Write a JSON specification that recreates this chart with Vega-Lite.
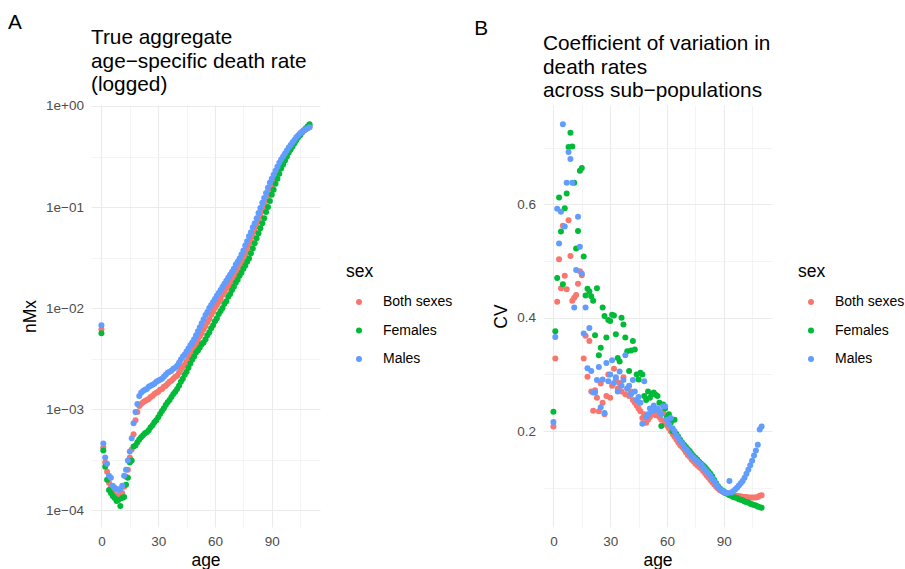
{
"$schema":"https://vega.github.io/schema/vega-lite/v6.json",
"padding":{"left":8,"top":11,"right":0,"bottom":0},
"config":{
 "font":"Liberation Sans",
 "view":{"stroke":null},
 "axis":{"domain":false,"ticks":false,"labelColor":"#4D4D4D","labelFontSize":13.5,"labelPadding":7,"titleFontSize":17.5,"titleFontWeight":"normal","titleColor":"black","titlePadding":6,"gridColor":"#EBEBEB"},
 "axisY":{"labelPadding":7.5},
 "axisX":{"titlePadding":4},
 "title":{"fontSize":20.8,"fontWeight":"normal","color":"black","anchor":"start"},
 "concat":{"spacing":21}
},
"datasets":{"d":[
{"age":0,"sex":"Both sexes","nMx":0.00617,"CV":0.208},
{"age":1,"sex":"Both sexes","nMx":0.000417,"CV":0.328},
{"age":2,"sex":"Both sexes","nMx":0.000295,"CV":0.428},
{"age":3,"sex":"Both sexes","nMx":0.00024,"CV":0.503},
{"age":4,"sex":"Both sexes","nMx":0.000186,"CV":0.452},
{"age":5,"sex":"Both sexes","nMx":0.000174,"CV":0.562},
{"age":6,"sex":"Both sexes","nMx":0.000151,"CV":0.474},
{"age":7,"sex":"Both sexes","nMx":0.000141,"CV":0.45},
{"age":8,"sex":"Both sexes","nMx":0.000138,"CV":0.572},
{"age":9,"sex":"Both sexes","nMx":0.000138,"CV":0.509},
{"age":10,"sex":"Both sexes","nMx":0.000132,"CV":0.43},
{"age":11,"sex":"Both sexes","nMx":0.000148,"CV":0.435},
{"age":12,"sex":"Both sexes","nMx":0.00017,"CV":0.44},
{"age":13,"sex":"Both sexes","nMx":0.000214,"CV":0.46},
{"age":14,"sex":"Both sexes","nMx":0.000251,"CV":0.482},
{"age":15,"sex":"Both sexes","nMx":0.000331,"CV":0.475},
{"age":16,"sex":"Both sexes","nMx":0.000398,"CV":0.328},
{"age":17,"sex":"Both sexes","nMx":0.000562,"CV":0.368},
{"age":18,"sex":"Both sexes","nMx":0.000776,"CV":0.296},
{"age":19,"sex":"Both sexes","nMx":0.000933,"CV":0.359},
{"age":20,"sex":"Both sexes","nMx":0.00107,"CV":0.27},
{"age":21,"sex":"Both sexes","nMx":0.00112,"CV":0.236},
{"age":22,"sex":"Both sexes","nMx":0.00117,"CV":0.272},
{"age":23,"sex":"Both sexes","nMx":0.0012,"CV":0.259},
{"age":24,"sex":"Both sexes","nMx":0.00123,"CV":0.235},
{"age":25,"sex":"Both sexes","nMx":0.00126,"CV":0.284},
{"age":26,"sex":"Both sexes","nMx":0.00132,"CV":0.25},
{"age":27,"sex":"Both sexes","nMx":0.00135,"CV":0.23},
{"age":28,"sex":"Both sexes","nMx":0.00141,"CV":0.262},
{"age":29,"sex":"Both sexes","nMx":0.00145,"CV":0.3},
{"age":30,"sex":"Both sexes","nMx":0.00148,"CV":0.259},
{"age":31,"sex":"Both sexes","nMx":0.00155,"CV":0.28},
{"age":32,"sex":"Both sexes","nMx":0.00158,"CV":0.31},
{"age":33,"sex":"Both sexes","nMx":0.00166,"CV":0.29},
{"age":34,"sex":"Both sexes","nMx":0.0017,"CV":0.275},
{"age":35,"sex":"Both sexes","nMx":0.00178,"CV":0.285},
{"age":36,"sex":"Both sexes","nMx":0.00186,"CV":0.27},
{"age":37,"sex":"Both sexes","nMx":0.00191,"CV":0.295},
{"age":38,"sex":"Both sexes","nMx":0.002,"CV":0.265},
{"age":39,"sex":"Both sexes","nMx":0.00209,"CV":0.275},
{"age":40,"sex":"Both sexes","nMx":0.00214,"CV":0.262},
{"age":41,"sex":"Both sexes","nMx":0.00229,"CV":0.27},
{"age":42,"sex":"Both sexes","nMx":0.00245,"CV":0.255},
{"age":43,"sex":"Both sexes","nMx":0.00263,"CV":0.25},
{"age":44,"sex":"Both sexes","nMx":0.00275,"CV":0.245},
{"age":45,"sex":"Both sexes","nMx":0.00295,"CV":0.24},
{"age":46,"sex":"Both sexes","nMx":0.00324,"CV":0.235},
{"age":47,"sex":"Both sexes","nMx":0.00347,"CV":0.223},
{"age":48,"sex":"Both sexes","nMx":0.00372,"CV":0.23},
{"age":49,"sex":"Both sexes","nMx":0.00407,"CV":0.215},
{"age":50,"sex":"Both sexes","nMx":0.00447,"CV":0.22},
{"age":51,"sex":"Both sexes","nMx":0.00479,"CV":0.225},
{"age":52,"sex":"Both sexes","nMx":0.00525,"CV":0.23},
{"age":53,"sex":"Both sexes","nMx":0.00562,"CV":0.235},
{"age":54,"sex":"Both sexes","nMx":0.00617,"CV":0.228},
{"age":55,"sex":"Both sexes","nMx":0.00661,"CV":0.23},
{"age":56,"sex":"Both sexes","nMx":0.00724,"CV":0.225},
{"age":57,"sex":"Both sexes","nMx":0.00776,"CV":0.22},
{"age":58,"sex":"Both sexes","nMx":0.00851,"CV":0.232},
{"age":59,"sex":"Both sexes","nMx":0.00912,"CV":0.215},
{"age":60,"sex":"Both sexes","nMx":0.01,"CV":0.21},
{"age":61,"sex":"Both sexes","nMx":0.0107,"CV":0.205},
{"age":62,"sex":"Both sexes","nMx":0.0115,"CV":0.2},
{"age":63,"sex":"Both sexes","nMx":0.0123,"CV":0.195},
{"age":64,"sex":"Both sexes","nMx":0.0135,"CV":0.19},
{"age":65,"sex":"Both sexes","nMx":0.0145,"CV":0.185},
{"age":66,"sex":"Both sexes","nMx":0.0155,"CV":0.18},
{"age":67,"sex":"Both sexes","nMx":0.0166,"CV":0.175},
{"age":68,"sex":"Both sexes","nMx":0.0178,"CV":0.172},
{"age":69,"sex":"Both sexes","nMx":0.0191,"CV":0.168},
{"age":70,"sex":"Both sexes","nMx":0.0204,"CV":0.163},
{"age":71,"sex":"Both sexes","nMx":0.0219,"CV":0.158},
{"age":72,"sex":"Both sexes","nMx":0.024,"CV":0.155},
{"age":73,"sex":"Both sexes","nMx":0.0257,"CV":0.15},
{"age":74,"sex":"Both sexes","nMx":0.0282,"CV":0.147},
{"age":75,"sex":"Both sexes","nMx":0.0302,"CV":0.143},
{"age":76,"sex":"Both sexes","nMx":0.0339,"CV":0.14},
{"age":77,"sex":"Both sexes","nMx":0.0372,"CV":0.137},
{"age":78,"sex":"Both sexes","nMx":0.0417,"CV":0.134},
{"age":79,"sex":"Both sexes","nMx":0.0457,"CV":0.13},
{"age":80,"sex":"Both sexes","nMx":0.0513,"CV":0.126},
{"age":81,"sex":"Both sexes","nMx":0.0575,"CV":0.122},
{"age":82,"sex":"Both sexes","nMx":0.0646,"CV":0.118},
{"age":83,"sex":"Both sexes","nMx":0.0724,"CV":0.114},
{"age":84,"sex":"Both sexes","nMx":0.0813,"CV":0.11},
{"age":85,"sex":"Both sexes","nMx":0.0912,"CV":0.106},
{"age":86,"sex":"Both sexes","nMx":0.102,"CV":0.102},
{"age":87,"sex":"Both sexes","nMx":0.115,"CV":0.099},
{"age":88,"sex":"Both sexes","nMx":0.129,"CV":0.096},
{"age":89,"sex":"Both sexes","nMx":0.145,"CV":0.094},
{"age":90,"sex":"Both sexes","nMx":0.162,"CV":0.092},
{"age":91,"sex":"Both sexes","nMx":0.178,"CV":0.091},
{"age":92,"sex":"Both sexes","nMx":0.2,"CV":0.09},
{"age":93,"sex":"Both sexes","nMx":0.219,"CV":0.089},
{"age":94,"sex":"Both sexes","nMx":0.24,"CV":0.088},
{"age":95,"sex":"Both sexes","nMx":0.263,"CV":0.087},
{"age":96,"sex":"Both sexes","nMx":0.288,"CV":0.086},
{"age":97,"sex":"Both sexes","nMx":0.309,"CV":0.086},
{"age":98,"sex":"Both sexes","nMx":0.331,"CV":0.085},
{"age":99,"sex":"Both sexes","nMx":0.363,"CV":0.085},
{"age":100,"sex":"Both sexes","nMx":0.389,"CV":0.084},
{"age":101,"sex":"Both sexes","nMx":0.417,"CV":0.084},
{"age":102,"sex":"Both sexes","nMx":0.442,"CV":0.084},
{"age":103,"sex":"Both sexes","nMx":0.468,"CV":0.083},
{"age":104,"sex":"Both sexes","nMx":0.495,"CV":0.083},
{"age":105,"sex":"Both sexes","nMx":0.519,"CV":0.083},
{"age":106,"sex":"Both sexes","nMx":0.543,"CV":0.083},
{"age":107,"sex":"Both sexes","nMx":0.569,"CV":0.083},
{"age":108,"sex":"Both sexes","nMx":0.589,"CV":0.084},
{"age":109,"sex":"Both sexes","nMx":0.61,"CV":0.086},
{"age":110,"sex":"Both sexes","nMx":0.631,"CV":0.087},
{"age":0,"sex":"Females","nMx":0.00562,"CV":0.234},
{"age":1,"sex":"Females","nMx":0.000389,"CV":0.376},
{"age":2,"sex":"Females","nMx":0.000269,"CV":0.47},
{"age":3,"sex":"Females","nMx":0.0002,"CV":0.612},
{"age":4,"sex":"Females","nMx":0.000158,"CV":0.552},
{"age":5,"sex":"Females","nMx":0.000148,"CV":0.459},
{"age":6,"sex":"Females","nMx":0.000138,"CV":0.593},
{"age":7,"sex":"Females","nMx":0.000132,"CV":0.619},
{"age":8,"sex":"Females","nMx":0.000123,"CV":0.701},
{"age":9,"sex":"Females","nMx":0.000126,"CV":0.726},
{"age":10,"sex":"Females","nMx":0.00011,"CV":0.702},
{"age":11,"sex":"Females","nMx":0.000132,"CV":0.638},
{"age":12,"sex":"Females","nMx":0.000135,"CV":0.522},
{"age":13,"sex":"Females","nMx":0.000178,"CV":0.553},
{"age":14,"sex":"Females","nMx":0.000209,"CV":0.659},
{"age":15,"sex":"Females","nMx":0.000295,"CV":0.664},
{"age":16,"sex":"Females","nMx":0.000309,"CV":0.508},
{"age":17,"sex":"Females","nMx":0.000427,"CV":0.439},
{"age":18,"sex":"Females","nMx":0.000437,"CV":0.451},
{"age":19,"sex":"Females","nMx":0.000468,"CV":0.446},
{"age":20,"sex":"Females","nMx":0.000501,"CV":0.438},
{"age":21,"sex":"Females","nMx":0.000525,"CV":0.43},
{"age":22,"sex":"Females","nMx":0.00055,"CV":0.369},
{"age":23,"sex":"Females","nMx":0.000575,"CV":0.452},
{"age":24,"sex":"Females","nMx":0.000589,"CV":0.334},
{"age":25,"sex":"Females","nMx":0.000617,"CV":0.347},
{"age":26,"sex":"Females","nMx":0.000661,"CV":0.418},
{"age":27,"sex":"Females","nMx":0.000692,"CV":0.403},
{"age":28,"sex":"Females","nMx":0.000741,"CV":0.365},
{"age":29,"sex":"Females","nMx":0.000776,"CV":0.396},
{"age":30,"sex":"Females","nMx":0.000832,"CV":0.394},
{"age":31,"sex":"Females","nMx":0.000891,"CV":0.405},
{"age":32,"sex":"Females","nMx":0.000955,"CV":0.404},
{"age":33,"sex":"Females","nMx":0.00102,"CV":0.371},
{"age":34,"sex":"Females","nMx":0.0011,"CV":0.329},
{"age":35,"sex":"Females","nMx":0.00117,"CV":0.323},
{"age":36,"sex":"Females","nMx":0.00123,"CV":0.4},
{"age":37,"sex":"Females","nMx":0.00132,"CV":0.388},
{"age":38,"sex":"Females","nMx":0.00141,"CV":0.365},
{"age":39,"sex":"Females","nMx":0.00148,"CV":0.341},
{"age":40,"sex":"Females","nMx":0.00158,"CV":0.306},
{"age":41,"sex":"Females","nMx":0.0017,"CV":0.342},
{"age":42,"sex":"Females","nMx":0.00186,"CV":0.359},
{"age":43,"sex":"Females","nMx":0.002,"CV":0.344},
{"age":44,"sex":"Females","nMx":0.00219,"CV":0.3},
{"age":45,"sex":"Females","nMx":0.00234,"CV":0.291},
{"age":46,"sex":"Females","nMx":0.00257,"CV":0.303},
{"age":47,"sex":"Females","nMx":0.00282,"CV":0.3},
{"age":48,"sex":"Females","nMx":0.00309,"CV":0.262},
{"age":49,"sex":"Females","nMx":0.00331,"CV":0.255},
{"age":50,"sex":"Females","nMx":0.00363,"CV":0.27},
{"age":51,"sex":"Females","nMx":0.0038,"CV":0.259},
{"age":52,"sex":"Females","nMx":0.00407,"CV":0.265},
{"age":53,"sex":"Females","nMx":0.00437,"CV":0.268},
{"age":54,"sex":"Females","nMx":0.00457,"CV":0.264},
{"age":55,"sex":"Females","nMx":0.0049,"CV":0.262},
{"age":56,"sex":"Females","nMx":0.00537,"CV":0.25},
{"age":57,"sex":"Females","nMx":0.00575,"CV":0.209},
{"age":58,"sex":"Females","nMx":0.00631,"CV":0.247},
{"age":59,"sex":"Females","nMx":0.00676,"CV":0.24},
{"age":60,"sex":"Females","nMx":0.00741,"CV":0.225},
{"age":61,"sex":"Females","nMx":0.00794,"CV":0.23},
{"age":62,"sex":"Females","nMx":0.00871,"CV":0.215},
{"age":63,"sex":"Females","nMx":0.00933,"CV":0.2},
{"age":64,"sex":"Females","nMx":0.01,"CV":0.22},
{"age":65,"sex":"Females","nMx":0.011,"CV":0.195},
{"age":66,"sex":"Females","nMx":0.0117,"CV":0.19},
{"age":67,"sex":"Females","nMx":0.0129,"CV":0.185},
{"age":68,"sex":"Females","nMx":0.0138,"CV":0.18},
{"age":69,"sex":"Females","nMx":0.0151,"CV":0.176},
{"age":70,"sex":"Females","nMx":0.0162,"CV":0.172},
{"age":71,"sex":"Females","nMx":0.0178,"CV":0.168},
{"age":72,"sex":"Females","nMx":0.0191,"CV":0.165},
{"age":73,"sex":"Females","nMx":0.0209,"CV":0.16},
{"age":74,"sex":"Females","nMx":0.0224,"CV":0.156},
{"age":75,"sex":"Females","nMx":0.0245,"CV":0.153},
{"age":76,"sex":"Females","nMx":0.0263,"CV":0.15},
{"age":77,"sex":"Females","nMx":0.0288,"CV":0.146},
{"age":78,"sex":"Females","nMx":0.0309,"CV":0.143},
{"age":79,"sex":"Females","nMx":0.0347,"CV":0.14},
{"age":80,"sex":"Females","nMx":0.0389,"CV":0.137},
{"age":81,"sex":"Females","nMx":0.0437,"CV":0.133},
{"age":82,"sex":"Females","nMx":0.049,"CV":0.129},
{"age":83,"sex":"Females","nMx":0.055,"CV":0.125},
{"age":84,"sex":"Females","nMx":0.0617,"CV":0.12},
{"age":85,"sex":"Females","nMx":0.0692,"CV":0.114},
{"age":86,"sex":"Females","nMx":0.0776,"CV":0.108},
{"age":87,"sex":"Females","nMx":0.0891,"CV":0.103},
{"age":88,"sex":"Females","nMx":0.1,"CV":0.099},
{"age":89,"sex":"Females","nMx":0.115,"CV":0.096},
{"age":90,"sex":"Females","nMx":0.132,"CV":0.094},
{"age":91,"sex":"Females","nMx":0.148,"CV":0.091},
{"age":92,"sex":"Females","nMx":0.17,"CV":0.089},
{"age":93,"sex":"Females","nMx":0.191,"CV":0.087},
{"age":94,"sex":"Females","nMx":0.214,"CV":0.086},
{"age":95,"sex":"Females","nMx":0.24,"CV":0.084},
{"age":96,"sex":"Females","nMx":0.263,"CV":0.083},
{"age":97,"sex":"Females","nMx":0.288,"CV":0.082},
{"age":98,"sex":"Females","nMx":0.316,"CV":0.08},
{"age":99,"sex":"Females","nMx":0.347,"CV":0.079},
{"age":100,"sex":"Females","nMx":0.372,"CV":0.078},
{"age":101,"sex":"Females","nMx":0.398,"CV":0.076},
{"age":102,"sex":"Females","nMx":0.427,"CV":0.075},
{"age":103,"sex":"Females","nMx":0.457,"CV":0.074},
{"age":104,"sex":"Females","nMx":0.49,"CV":0.072},
{"age":105,"sex":"Females","nMx":0.513,"CV":0.071},
{"age":106,"sex":"Females","nMx":0.55,"CV":0.07},
{"age":107,"sex":"Females","nMx":0.575,"CV":0.069},
{"age":108,"sex":"Females","nMx":0.603,"CV":0.067},
{"age":109,"sex":"Females","nMx":0.631,"CV":0.066},
{"age":110,"sex":"Females","nMx":0.661,"CV":0.065},
{"age":0,"sex":"Males","nMx":0.00676,"CV":0.216},
{"age":1,"sex":"Males","nMx":0.000457,"CV":0.366},
{"age":2,"sex":"Males","nMx":0.000331,"CV":0.592},
{"age":3,"sex":"Males","nMx":0.000288,"CV":0.531},
{"age":4,"sex":"Males","nMx":0.000219,"CV":0.587},
{"age":5,"sex":"Males","nMx":0.000209,"CV":0.741},
{"age":6,"sex":"Males","nMx":0.000174,"CV":0.561},
{"age":7,"sex":"Males","nMx":0.000166,"CV":0.638},
{"age":8,"sex":"Males","nMx":0.000162,"CV":0.692},
{"age":9,"sex":"Males","nMx":0.000158,"CV":0.68},
{"age":10,"sex":"Males","nMx":0.000162,"CV":0.638},
{"age":11,"sex":"Males","nMx":0.000174,"CV":0.418},
{"age":12,"sex":"Males","nMx":0.000219,"CV":0.484},
{"age":13,"sex":"Males","nMx":0.000251,"CV":0.578},
{"age":14,"sex":"Males","nMx":0.000309,"CV":0.525},
{"age":15,"sex":"Males","nMx":0.00038,"CV":0.478},
{"age":16,"sex":"Males","nMx":0.000513,"CV":0.372},
{"age":17,"sex":"Males","nMx":0.000724,"CV":0.418},
{"age":18,"sex":"Males","nMx":0.000933,"CV":0.311},
{"age":19,"sex":"Males","nMx":0.00112,"CV":0.382},
{"age":20,"sex":"Males","nMx":0.00135,"CV":0.306},
{"age":21,"sex":"Males","nMx":0.00145,"CV":0.268},
{"age":22,"sex":"Males","nMx":0.00151,"CV":0.268},
{"age":23,"sex":"Males","nMx":0.00155,"CV":0.29},
{"age":24,"sex":"Males","nMx":0.00158,"CV":0.313},
{"age":25,"sex":"Males","nMx":0.00166,"CV":0.242},
{"age":26,"sex":"Males","nMx":0.0017,"CV":0.291},
{"age":27,"sex":"Males","nMx":0.00174,"CV":0.232},
{"age":28,"sex":"Males","nMx":0.00178,"CV":0.32},
{"age":29,"sex":"Males","nMx":0.00186,"CV":0.288},
{"age":30,"sex":"Males","nMx":0.00191,"CV":0.3},
{"age":31,"sex":"Males","nMx":0.00195,"CV":0.325},
{"age":32,"sex":"Males","nMx":0.002,"CV":0.285},
{"age":33,"sex":"Males","nMx":0.00209,"CV":0.295},
{"age":34,"sex":"Males","nMx":0.00219,"CV":0.27},
{"age":35,"sex":"Males","nMx":0.00229,"CV":0.305},
{"age":36,"sex":"Males","nMx":0.00234,"CV":0.28},
{"age":37,"sex":"Males","nMx":0.0024,"CV":0.29},
{"age":38,"sex":"Males","nMx":0.00251,"CV":0.334},
{"age":39,"sex":"Males","nMx":0.00257,"CV":0.275},
{"age":40,"sex":"Males","nMx":0.00269,"CV":0.28},
{"age":41,"sex":"Males","nMx":0.00288,"CV":0.265},
{"age":42,"sex":"Males","nMx":0.00309,"CV":0.29},
{"age":43,"sex":"Males","nMx":0.00331,"CV":0.27},
{"age":44,"sex":"Males","nMx":0.00347,"CV":0.255},
{"age":45,"sex":"Males","nMx":0.00372,"CV":0.26},
{"age":46,"sex":"Males","nMx":0.00398,"CV":0.25},
{"age":47,"sex":"Males","nMx":0.00427,"CV":0.213},
{"age":48,"sex":"Males","nMx":0.00457,"CV":0.288},
{"age":49,"sex":"Males","nMx":0.0049,"CV":0.225},
{"age":50,"sex":"Males","nMx":0.00537,"CV":0.23},
{"age":51,"sex":"Males","nMx":0.00589,"CV":0.24},
{"age":52,"sex":"Males","nMx":0.00646,"CV":0.235},
{"age":53,"sex":"Males","nMx":0.00708,"CV":0.245},
{"age":54,"sex":"Males","nMx":0.00776,"CV":0.238},
{"age":55,"sex":"Males","nMx":0.00851,"CV":0.24},
{"age":56,"sex":"Males","nMx":0.00912,"CV":0.235},
{"age":57,"sex":"Males","nMx":0.01,"CV":0.23},
{"age":58,"sex":"Males","nMx":0.0107,"CV":0.244},
{"age":59,"sex":"Males","nMx":0.0115,"CV":0.244},
{"age":60,"sex":"Males","nMx":0.0123,"CV":0.22},
{"age":61,"sex":"Males","nMx":0.0132,"CV":0.212},
{"age":62,"sex":"Males","nMx":0.0141,"CV":0.223},
{"age":63,"sex":"Males","nMx":0.0151,"CV":0.205},
{"age":64,"sex":"Males","nMx":0.0162,"CV":0.2},
{"age":65,"sex":"Males","nMx":0.0174,"CV":0.192},
{"age":66,"sex":"Males","nMx":0.0186,"CV":0.188},
{"age":67,"sex":"Males","nMx":0.02,"CV":0.182},
{"age":68,"sex":"Males","nMx":0.0214,"CV":0.178},
{"age":69,"sex":"Males","nMx":0.0229,"CV":0.172},
{"age":70,"sex":"Males","nMx":0.0245,"CV":0.168},
{"age":71,"sex":"Males","nMx":0.0269,"CV":0.165},
{"age":72,"sex":"Males","nMx":0.0288,"CV":0.16},
{"age":73,"sex":"Males","nMx":0.0309,"CV":0.156},
{"age":74,"sex":"Males","nMx":0.0339,"CV":0.153},
{"age":75,"sex":"Males","nMx":0.0372,"CV":0.15},
{"age":76,"sex":"Males","nMx":0.0417,"CV":0.147},
{"age":77,"sex":"Males","nMx":0.0457,"CV":0.144},
{"age":78,"sex":"Males","nMx":0.0513,"CV":0.141},
{"age":79,"sex":"Males","nMx":0.0562,"CV":0.137},
{"age":80,"sex":"Males","nMx":0.0631,"CV":0.133},
{"age":81,"sex":"Males","nMx":0.0692,"CV":0.129},
{"age":82,"sex":"Males","nMx":0.0776,"CV":0.125},
{"age":83,"sex":"Males","nMx":0.0871,"CV":0.121},
{"age":84,"sex":"Males","nMx":0.0977,"CV":0.116},
{"age":85,"sex":"Males","nMx":0.11,"CV":0.111},
{"age":86,"sex":"Males","nMx":0.123,"CV":0.106},
{"age":87,"sex":"Males","nMx":0.138,"CV":0.101},
{"age":88,"sex":"Males","nMx":0.155,"CV":0.098},
{"age":89,"sex":"Males","nMx":0.174,"CV":0.095},
{"age":90,"sex":"Males","nMx":0.191,"CV":0.093},
{"age":91,"sex":"Males","nMx":0.209,"CV":0.092},
{"age":92,"sex":"Males","nMx":0.229,"CV":0.091},
{"age":93,"sex":"Males","nMx":0.251,"CV":0.112},
{"age":94,"sex":"Males","nMx":0.275,"CV":0.092},
{"age":95,"sex":"Males","nMx":0.295,"CV":0.094},
{"age":96,"sex":"Males","nMx":0.316,"CV":0.097},
{"age":97,"sex":"Males","nMx":0.339,"CV":0.1},
{"age":98,"sex":"Males","nMx":0.363,"CV":0.104},
{"age":99,"sex":"Males","nMx":0.389,"CV":0.108},
{"age":100,"sex":"Males","nMx":0.412,"CV":0.112},
{"age":101,"sex":"Males","nMx":0.437,"CV":0.118},
{"age":102,"sex":"Males","nMx":0.462,"CV":0.125},
{"age":103,"sex":"Males","nMx":0.49,"CV":0.132},
{"age":104,"sex":"Males","nMx":0.513,"CV":0.14},
{"age":105,"sex":"Males","nMx":0.537,"CV":0.148},
{"age":106,"sex":"Males","nMx":0.556,"CV":0.157},
{"age":107,"sex":"Males","nMx":0.575,"CV":0.166},
{"age":108,"sex":"Males","nMx":0.589,"CV":0.176},
{"age":109,"sex":"Males","nMx":0.603,"CV":0.203},
{"age":110,"sex":"Males","nMx":0.617,"CV":0.208}
]},
"resolve":{"legend":{"color":"independent"}},
"hconcat":[
{
 "title":{"text":"A","frame":"bounds","anchor":"start","dx":-13.5,"offset":-6},
 "resolve":{"legend":{"color":"independent"}},
 "vconcat":[{
  "width":229,"height":422,
  "title":{"text":["True aggregate","age\u2212specific death rate","(logged)"],"anchor":"start","frame":"group","lineHeight":23.4,"offset":3},
  "data":{"name":"d"},
  "mark":{"type":"circle","size":36,"opacity":1},
  "encoding":{
   "x":{"field":"age","type":"quantitative","title":"age","scale":{"domain":[-5.5,115.5],"nice":false,"zero":false},
        "axis":{"values":[0,15,30,45,60,75,90,105],"labelExpr":"datum.value % 30 == 0 ? datum.label : ''","gridWidth":{"condition":{"test":"datum.value % 30 == 0","value":1.1},"value":0.55}}},
   "y":{"field":"nMx","type":"quantitative","title":"nMx","scale":{"type":"log","domain":[0.000068,1.023],"nice":false},
        "axis":{"values":[0.0001,0.00031623,0.001,0.0031623,0.01,0.031623,0.1,0.31623,1],
                "labelExpr":"abs(log(datum.value)/LN10 - round(log(datum.value)/LN10)) < 0.01 ? (round(log(datum.value)/LN10) == 0 ? '1e+00' : '1e\u22120' + (-round(log(datum.value)/LN10))) : ''",
                "gridWidth":{"condition":{"test":"abs(log(datum.value)/LN10 - round(log(datum.value)/LN10)) < 0.01","value":1.1},"value":0.55}}},
   "color":{"field":"sex","type":"nominal","scale":{"domain":["Both sexes","Females","Males"],"range":["#F8766D","#00BA38","#619CFF"]},
        "legend":{"orient":"none","legendX":255,"legendY":158,"title":"sex","symbolType":"circle","symbolSize":36,"symbolOpacity":1,"symbolOffset":6,"labelOffset":17,"rowPadding":14.5,"titlePadding":14.5,"titleFontSize":17.5,"titleFontWeight":"normal","titleColor":"black","labelFontSize":14,"labelColor":"black","padding":0}}
  }
 }]
},
{
 "title":{"text":"B","frame":"bounds","anchor":"start","dx":-18.5,"offset":-6},
 "resolve":{"legend":{"color":"independent"}},
 "vconcat":[{
  "width":229,"height":422,
  "title":{"text":["Coefficient of variation in","death rates","across sub\u2212populations"],"anchor":"start","frame":"group","lineHeight":23.4,"offset":3},
  "data":{"name":"d"},
  "mark":{"type":"circle","size":36,"opacity":1},
  "encoding":{
   "x":{"field":"age","type":"quantitative","title":"age","scale":{"domain":[-5.5,115.5],"nice":false,"zero":false},
        "axis":{"values":[0,15,30,45,60,75,90,105],"labelExpr":"datum.value % 30 == 0 ? datum.label : ''","gridWidth":{"condition":{"test":"datum.value % 30 == 0","value":1.1},"value":0.55}}},
   "y":{"field":"CV","type":"quantitative","title":"CV","scale":{"domain":[0.031,0.775],"nice":false,"zero":false},
        "axis":{"values":[0.1,0.2,0.3,0.4,0.5,0.6,0.7],"labelExpr":"round(datum.value*10) % 2 == 0 ? format(datum.value, '.1f') : ''",
                "gridWidth":{"condition":{"test":"round(datum.value*10) % 2 == 0","value":1.1},"value":0.55}}},
   "color":{"field":"sex","type":"nominal","scale":{"domain":["Both sexes","Females","Males"],"range":["#F8766D","#00BA38","#619CFF"]},
        "legend":{"orient":"none","legendX":255,"legendY":158,"title":"sex","symbolType":"circle","symbolSize":36,"symbolOpacity":1,"symbolOffset":6,"labelOffset":17,"rowPadding":14.5,"titlePadding":14.5,"titleFontSize":17.5,"titleFontWeight":"normal","titleColor":"black","labelFontSize":14,"labelColor":"black","padding":0}}
  }
 }]
}
]
}
